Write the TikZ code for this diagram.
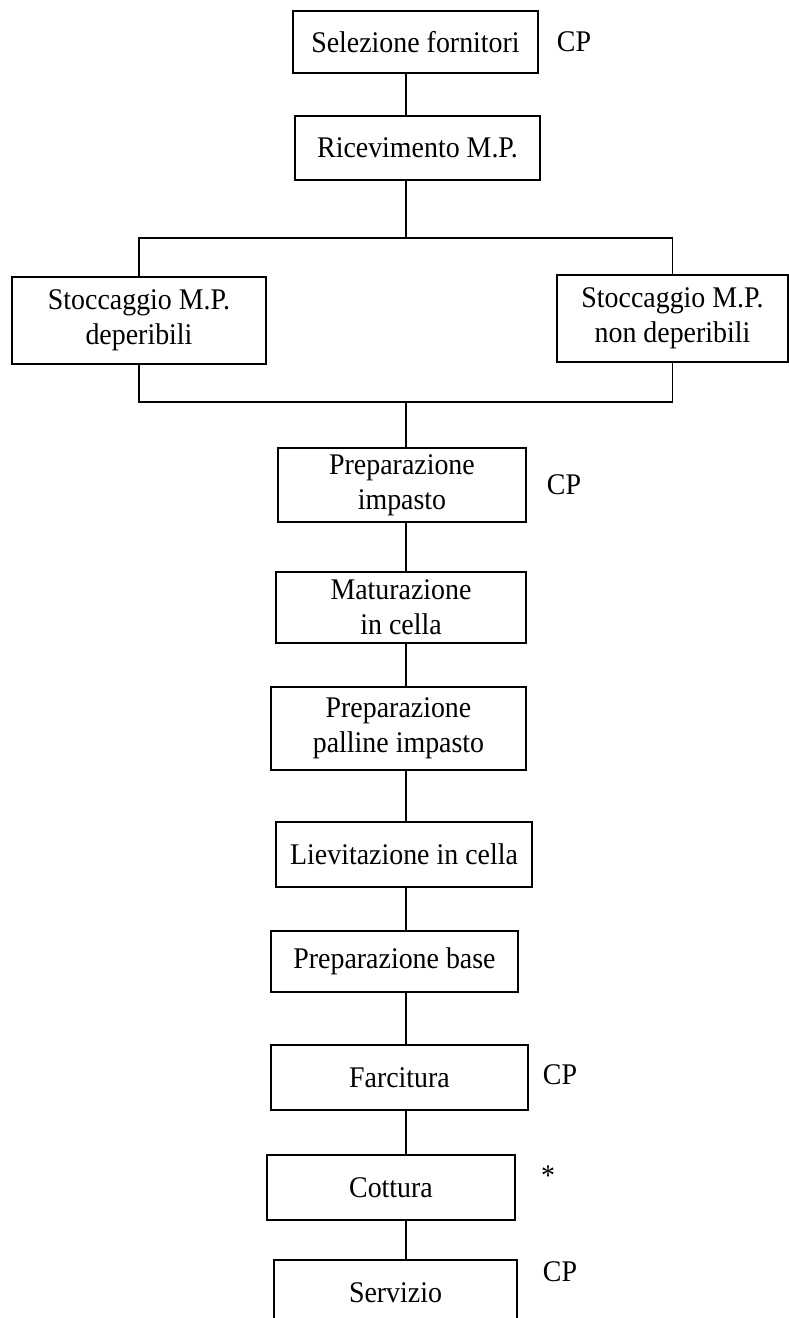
\documentclass[tikz,border=0pt]{standalone}
\usepackage{fontspec}
\setmainfont{Liberation Serif}[FakeStretch=0.93]
\usepackage{tikz}
\usetikzlibrary{positioning, calc}

\tikzset{
    stepbox/.style={draw, line width=1.3pt, align=center, inner sep=0pt},
    cplabel/.style={inner sep=0pt}
}

\begin{document}
\begin{tikzpicture}[x=1pt, y=-1pt, line width=1.3pt, font=\fontsize{30}{35}\selectfont]
                \useasboundingbox (0,0) rectangle (789,1318);
                % fasi
                \node[stepbox, minimum width=245pt, minimum height=62pt] (sel) at (415.5,42) {Selezione fornitori};
                \node[stepbox, minimum width=245pt, minimum height=64pt] (ric) at (417.5,148) {Ricevimento M.P.};
                \node[stepbox, minimum width=254pt, minimum height=87pt] (stoD) at (139,320.5) {Stoccaggio M.P.\\deperibili};
                \node[stepbox, minimum width=231pt, minimum height=87pt] (stoN) at (672.5,318.5) {Stoccaggio M.P.\\non deperibili};
                \node[stepbox, minimum width=248pt, minimum height=74pt] (prepI) at (402,485) {Preparazione\\impasto};
                \node[stepbox, minimum width=250pt, minimum height=71pt] (mat) at (401,607.5) {Maturazione\\in cella};
                \node[stepbox, minimum width=255pt, minimum height=83pt] (pall) at (398.5,728.5) {Preparazione\\palline impasto};
                \node[stepbox, minimum width=256pt, minimum height=65pt] (liev) at (404,854.5) {Lievitazione in cella};
                \node[stepbox, minimum width=247pt, minimum height=61pt] (base) at (394.5,961.5) {Preparazione base};
                \node[stepbox, minimum width=257pt, minimum height=65pt] (farc) at (399.5,1077.5) {Farcitura};
                \node[stepbox, minimum width=248pt, minimum height=65pt] (cott) at (391,1187.5) {Cottura};
                \node[stepbox, minimum width=243pt, minimum height=65pt] (serv) at (395.5,1292.5) {Servizio};
                % punti di controllo
                \node[cplabel] (cpSel) at (574,42) {CP};
                \node[cplabel] (cpPrep) at (564,485) {CP};
                \node[cplabel] (cpFarc) at (560,1075) {CP};
                \node[cplabel] (cpCott) at (548,1176) {*};
                \node[cplabel] (cpServ) at (560,1272) {CP};
                % collegamenti
                \coordinate (spine) at (406,0);
                \coordinate (splitTop) at (406,238);
                \coordinate (joinBot) at (406,402);
                \draw (sel.south -| spine) -- (ric.north -| spine);
                \draw (ric.south -| spine) -- (splitTop);
                \draw (stoD.north) |- (splitTop) -| (stoN.north);
                \draw (stoD.south) |- (joinBot) -| (stoN.south);
                \draw (joinBot) -- (prepI.north -| spine);
                \draw (prepI.south -| spine) -- (mat.north -| spine);
                \draw (mat.south -| spine) -- (pall.north -| spine);
                \draw (pall.south -| spine) -- (liev.north -| spine);
                \draw (liev.south -| spine) -- (base.north -| spine);
                \draw (base.south -| spine) -- (farc.north -| spine);
                \draw (farc.south -| spine) -- (cott.north -| spine);
                \draw (cott.south -| spine) -- (serv.north -| spine);
            \end{tikzpicture}
\end{document}
